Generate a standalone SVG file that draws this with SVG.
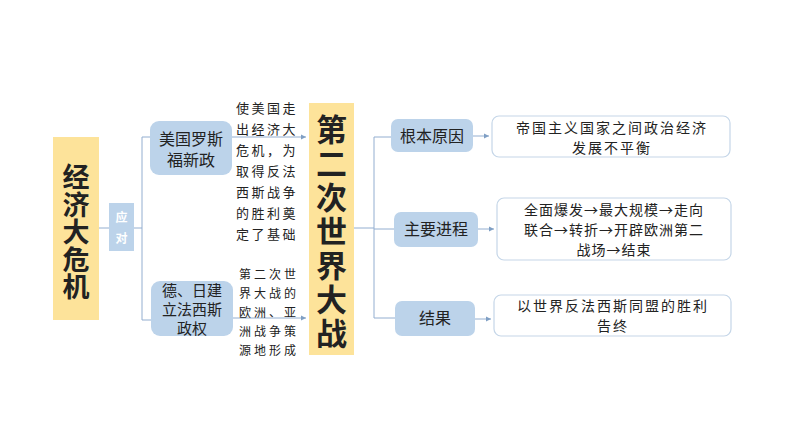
<svg xmlns="http://www.w3.org/2000/svg" width="794" height="447" viewBox="0 0 794 447">
<defs>
<marker id="ar" markerWidth="6" markerHeight="6" refX="5" refY="3" orient="auto"><path d="M0,0.5 L5,3 L0,5.5 z" fill="#7f9fc4"/></marker>
<style>
.y{fill:#fde39a}
.b{fill:#bcd3ea}
.w{fill:#fff;stroke:#c5d6e8;stroke-width:1.2}
.t{font-family:"Noto Sans CJK SC",sans-serif;fill:#222}
.c line,.c path{stroke:#93aed0;stroke-width:1;fill:none}
</style>
</defs>
<rect width="794" height="447" fill="#fff"/>
<g class="c">
<path d="M99,228 H142 M142,137 V320 M142,137 H150 M142,320 H151"/>
<line x1="232" y1="137" x2="306" y2="137" marker-end="url(#ar)"/>
<line x1="233" y1="318" x2="306" y2="318" marker-end="url(#ar)"/>
<path d="M354,228 H374 M374,137 V318 M374,137 H391 M374,229 H394 M374,318 H395"/>
<line x1="473" y1="136" x2="489" y2="136" marker-end="url(#ar)"/>
<line x1="478" y1="229" x2="494" y2="229" marker-end="url(#ar)"/>
<line x1="475" y1="319" x2="491" y2="319" marker-end="url(#ar)"/>
</g>
<g id="n1"><rect class="y" x="53" y="137" width="46" height="183"/><text class="t" font-size="27" font-weight="bold" text-anchor="middle"><tspan x="76" y="187">经</tspan><tspan x="76" y="215">济</tspan><tspan x="76" y="242">大</tspan><tspan x="76" y="270">危</tspan><tspan x="76" y="297">机</tspan></text></g>
<g id="n2"><rect class="b" x="109" y="203" width="25" height="48"/><text class="t" font-size="12" font-weight="bold" style="fill:#fff" text-anchor="middle"><tspan x="121.5" y="222">应</tspan><tspan x="121.5" y="243">对</tspan></text></g>
<g id="n3"><rect class="b" x="150" y="121" width="82" height="54" rx="9"/><text class="t" font-size="16" text-anchor="middle"><tspan x="191" y="145">美国罗斯</tspan><tspan x="191" y="166">福新政</tspan></text></g>
<g id="n4"><rect class="b" x="151" y="281" width="82" height="55" rx="9"/><text class="t" font-size="15" text-anchor="middle"><tspan x="192" y="296">德、日建</tspan><tspan x="192" y="315">立法西斯</tspan><tspan x="192" y="334">政权</tspan></text></g>
<g id="n5"><text class="t" font-size="13" letter-spacing="2.5"><tspan x="236" y="113">使美国走</tspan><tspan x="236" y="134">出经济大</tspan><tspan x="236" y="155">危机，为</tspan><tspan x="236" y="176">取得反法</tspan><tspan x="236" y="197">西斯战争</tspan><tspan x="236" y="218">的胜利奠</tspan><tspan x="236" y="239">定了基础</tspan></text></g>
<g id="n6"><text class="t" font-size="12" letter-spacing="3"><tspan x="239" y="279">第二次世</tspan><tspan x="239" y="298">界大战的</tspan><tspan x="239" y="317">欧洲、亚</tspan><tspan x="239" y="336">洲战争策</tspan><tspan x="239" y="355">源地形成</tspan></text></g>
<g id="n7"><rect class="y" x="309" y="103" width="45" height="252"/><text class="t" font-size="31" font-weight="bold" text-anchor="middle"><tspan x="331.5" y="141">第</tspan><tspan x="331.5" y="175">二</tspan><tspan x="331.5" y="209">次</tspan><tspan x="331.5" y="243">世</tspan><tspan x="331.5" y="277">界</tspan><tspan x="331.5" y="311">大</tspan><tspan x="331.5" y="345">战</tspan></text></g>
<g id="n8"><rect class="b" x="391" y="119" width="82" height="33" rx="7"/><text class="t" font-size="16" x="432" y="142" text-anchor="middle">根本原因</text></g>
<g id="n9"><rect class="b" x="394" y="212" width="84" height="35" rx="7"/><text class="t" font-size="16" x="436" y="235" text-anchor="middle">主要进程</text></g>
<g id="n10"><rect class="b" x="395" y="301" width="80" height="35" rx="7"/><text class="t" font-size="16" x="435" y="324" text-anchor="middle">结果</text></g>
<g id="n11"><rect class="w" x="492" y="116" width="238" height="41" rx="7"/><text class="t" font-size="14" text-anchor="middle" letter-spacing="2"><tspan x="612" y="133">帝国主义国家之间政治经济</tspan><tspan x="612" y="153">发展不平衡</tspan></text></g>
<g id="n12"><rect class="w" x="497" y="198" width="234" height="62" rx="7"/><text class="t" font-size="14" text-anchor="middle" letter-spacing="1"><tspan x="614" y="215">全面爆发→最大规模→走向</tspan><tspan x="614" y="235">联合→转折→开辟欧洲第二</tspan><tspan x="614" y="255">战场→结束</tspan></text></g>
<g id="n13"><rect class="w" x="494" y="295" width="237" height="41" rx="7"/><text class="t" font-size="14" text-anchor="middle" letter-spacing="2"><tspan x="613" y="311">以世界反法西斯同盟的胜利</tspan><tspan x="613" y="331">告终</tspan></text></g>
</svg>
